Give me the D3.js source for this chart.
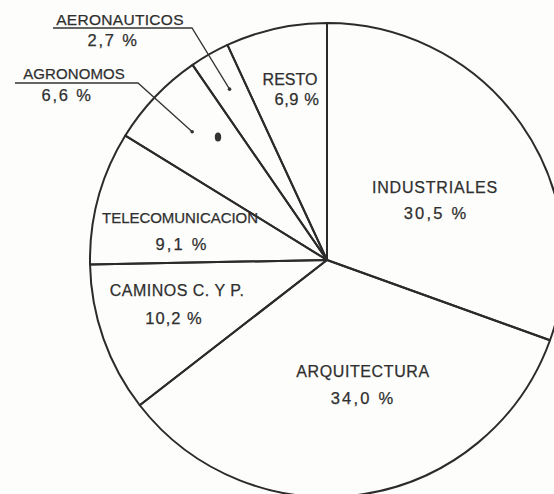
<!DOCTYPE html>
<html>

<head>
    <script src="https://d3js.org/d3.v7.min.js"></script>
    <style>
        body {
            margin: 0;
            background: #fdfdfb;
        }

        .slice {
            fill: none;
            stroke: #2b2b2b;
            stroke-width: 2px;
        }

        .lbl {
            font-family: "Liberation Sans", Arial, sans-serif;
            fill: #2f2f2f;
            stroke: #2f2f2f;
            stroke-width: 0.25px;
            text-anchor: middle;
        }

        .pct { font-size: 16.5px; }

        .leader {
            fill: none;
            stroke: #333;
            stroke-width: 1.3px;
        }
    </style>
</head>

<body>
    <script>
        // data, clockwise from 12 o'clock
        var categories = ["INDUSTRIALES", "ARQUITECTURA", "CAMINOS C. Y P.", "TELECOMUNICACION",
            "AGRONOMOS", "AERONAUTICOS", "RESTO"];
        var shares = [30.5, 34.0, 10.2, 9.1, 6.6, 2.7, 6.9];

        var width = 554, height = 494;
        var cx = 327, cy = 260, radius = 237;

        // label placement (offsets from the pie centre), kept apart from the data
        var namePos = [[108, -67], [36, 117], [-150, 36], [-147, -37], [-253, -181], [-207, -235], [-37, -175]];
        var pctPos = [[109, -41], [36, 144], [-153, 64], [-145, -10], [-260, -159], [-214, -214], [-30, -155]];
        var nameSize = [16, 16, 16, 15, 15, 15.5, 16];
        var nameSpacing = [0.8, 0.6, 0.5, -0.05, 0.1, 0.3, 0];
        var pctSpacing = [2.2, 2.2, 1, 2.2, 1.8, 1.8, 0.6];
        // outside labels: underline span and where the leader ends (fraction of radius)
        var underline = { 4: [-312, -189, -177], 5: [-274, -135, -232] };
        var dotRadius = { 4: 0.785, 5: 0.83 };

        var fmt = function (v) { return d3.format(".1f")(v).replace(".", ",") + " %"; };

        var svg = d3.select("body").append("svg")
            .attr("width", width)
            .attr("height", height);

        var g = svg.append("g")
            .attr("transform", "translate(" + cx + "," + cy + ")");

        var pie = d3.pie().sort(null).value(function (d) { return d; });
        var arcs = pie(shares);

        var arc = d3.arc().innerRadius(0).outerRadius(radius);

        g.selectAll("path.slice")
            .data(arcs)
            .enter().append("path")
            .attr("class", "slice")
            .attr("d", arc)
            .attr("stroke-linejoin", "round");

        // names
        g.selectAll("text.name")
            .data(arcs)
            .enter().append("text")
            .attr("class", "lbl name")
            .attr("x", function (d, i) { return namePos[i][0]; })
            .attr("y", function (d, i) { return namePos[i][1]; })
            .attr("font-size", function (d, i) { return nameSize[i]; })
            .attr("letter-spacing", function (d, i) { return nameSpacing[i]; })
            .text(function (d, i) { return categories[i]; });

        // percentages
        g.selectAll("text.pct")
            .data(arcs)
            .enter().append("text")
            .attr("class", "lbl pct")
            .attr("x", function (d, i) { return pctPos[i][0]; })
            .attr("y", function (d, i) { return pctPos[i][1]; })
            .attr("letter-spacing", function (d, i) { return pctSpacing[i]; })
            .text(function (d) { return fmt(d.value); });

        // leaders for the small slices
        Object.keys(underline).forEach(function (k) {
            var u = underline[k];
            var r = dotRadius[k] * radius;
            var p = d3.arc().innerRadius(r).outerRadius(r).centroid(arcs[k]);
            g.append("path")
                .attr("class", "leader")
                .attr("d", "M" + u[0] + "," + u[2] + "H" + u[1] + "L" + p[0] + "," + p[1]);
            g.append("circle")
                .attr("cx", p[0])
                .attr("cy", p[1])
                .attr("r", 1.8)
                .attr("fill", "#333");
        });

        // ink blot on the scan
        g.append("ellipse")
            .attr("cx", -109).attr("cy", -123)
            .attr("rx", 3.2).attr("ry", 4.5)
            .attr("fill", "#333");
    </script>
</body>

</html>
